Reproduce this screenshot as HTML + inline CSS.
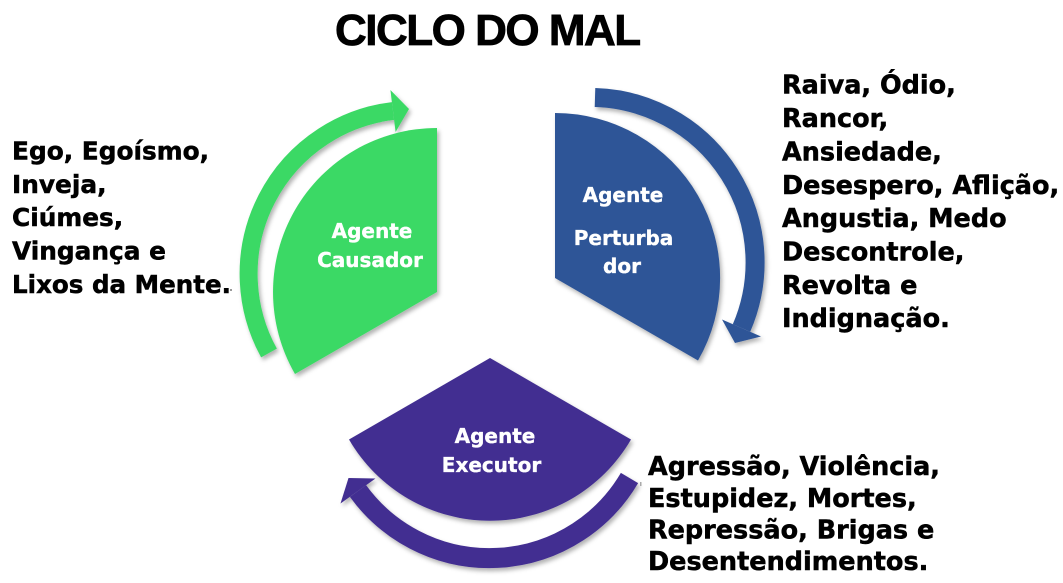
<!DOCTYPE html>
<html><head><meta charset="utf-8">
<style>
html,body{margin:0;padding:0;background:#fff;}
svg{display:block;}
.t{font-family:"DejaVu Sans","Liberation Sans",sans-serif;font-weight:bold;fill:#000;stroke:#000;stroke-width:0.5px;}
.w{font-family:"DejaVu Sans","Liberation Sans",sans-serif;font-weight:bold;fill:#fff;font-size:20px;stroke:#fff;stroke-width:0.35px;}
</style></head>
<body>
<svg width="1063" height="583" viewBox="0 0 1063 583" xmlns="http://www.w3.org/2000/svg">
<defs>
<filter id="sh" x="-20%" y="-20%" width="140%" height="140%">
<feDropShadow dx="2" dy="3" stdDeviation="2.2" flood-color="#000" flood-opacity="0.3"/>
</filter>
</defs>

<text x="335" y="45" font-family="'Liberation Sans',Arial,sans-serif" font-weight="bold" font-size="44" letter-spacing="-1.5" fill="#000" stroke="#000" stroke-width="0.8">CICLO DO MAL</text>

<!-- Green -->
<g filter="url(#sh)">
<path d="M437,292 L295,374 A164,164 0 0 1 437,128 Z" fill="#3bd965"/>
<path d="M269,353 A164,164 0 0 1 393,111" fill="none" stroke="#3bd965" stroke-width="18"/>
<polygon points="390.4,90 409,109 395.6,132" fill="#3bd965"/>
</g>

<!-- Blue -->
<g filter="url(#sh)">
<path d="M555,278 L555,113 A165,165 0 0 1 698,360.5 Z" fill="#2f5597"/>
<path d="M595,97.5 A165,165 0 0 1 741.5,328" fill="none" stroke="#2f5597" stroke-width="19"/>
<polygon points="722,319.5 761,336.5 735,343" fill="#2f5597"/>
</g>

<!-- Purple -->
<g filter="url(#sh)">
<path d="M490,358 L631,439.5 A163,163 0 0 1 349,439.5 Z" fill="#432f91"/>
<path d="M629.5,478 A162.4,162.4 0 0 1 358,491" fill="none" stroke="#432f91" stroke-width="20"/>
<polygon points="375.5,478.5 340.5,503.5 348.5,478" fill="#432f91"/>
</g>

<!-- inner labels -->
<text class="w" x="372" y="238" text-anchor="middle">Agente</text>
<text class="w" x="370" y="267" text-anchor="middle">Causador</text>

<text class="w" x="623" y="202" text-anchor="middle">Agente</text>
<text class="w" x="623.5" y="245" text-anchor="middle">Perturba</text>
<text class="w" x="622" y="273" text-anchor="middle">dor</text>

<text class="w" x="495" y="443" text-anchor="middle">Agente</text>
<text class="w" x="491.5" y="472" text-anchor="middle">Executor</text>

<!-- left text -->
<text class="t" x="12" y="159.5" font-size="24.8">Ego, Egoísmo,</text>
<text class="t" x="12" y="193" font-size="24.8">Inveja,</text>
<text class="t" x="12" y="226" font-size="24.8">Ciúmes,</text>
<text class="t" x="12" y="259.5" font-size="24.8">Vingança e</text>
<text class="t" x="12" y="293" font-size="24.8" textLength="219" lengthAdjust="spacingAndGlyphs">Lixos da Mente.</text>

<!-- right text -->
<text class="t" x="782" y="93.5" font-size="25.5">Raiva, Ódio,</text>
<text class="t" x="782" y="127" font-size="25.5">Rancor,</text>
<text class="t" x="782" y="160.5" font-size="25.5">Ansiedade,</text>
<text class="t" x="782" y="194" font-size="25.5">Desespero, Aflição,</text>
<text class="t" x="782" y="227" font-size="25.5">Angustia, Medo</text>
<text class="t" x="782" y="260.5" font-size="25.5">Descontrole,</text>
<text class="t" x="782" y="294" font-size="25.5">Revolta e</text>
<text class="t" x="782" y="327" font-size="25.5">Indignação.</text>

<!-- bottom text -->
<text class="t" x="648" y="475" font-size="25.5">Agressão, Violência,</text>
<text class="t" x="648" y="507" font-size="25.5">Estupidez, Mortes,</text>
<text class="t" x="648" y="538.5" font-size="25.5">Repressão, Brigas e</text>
<text class="t" x="648" y="570" font-size="25.5">Desentendimentos.</text>

<!-- tiny marks -->
<rect x="230" y="289" width="2" height="2" fill="#999"/>
<rect x="640" y="482" width="1.5" height="4" fill="#aaa"/>
</svg>
</body></html>
